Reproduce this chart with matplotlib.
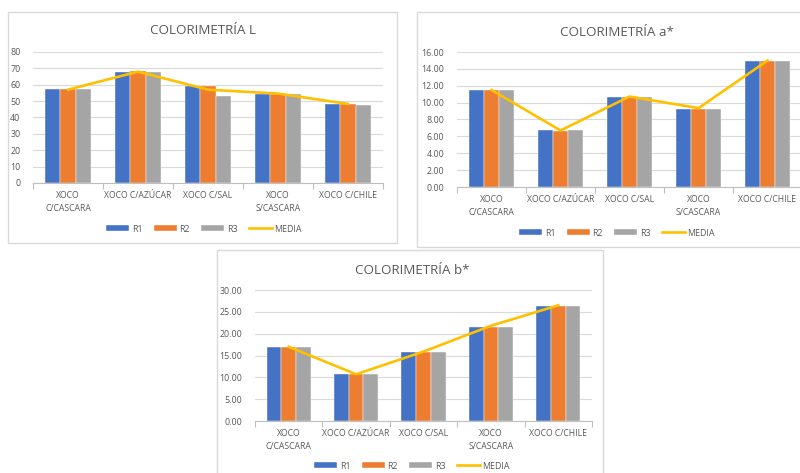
import matplotlib.pyplot as plt
import numpy as np
from matplotlib.patches import Rectangle

plt.rcParams['font.family'] = ['Open Sans', 'DejaVu Sans']

muestras = ['XOCO\nC/CASCARA', 'XOCO C/AZÚCAR', 'XOCO C/SAL', 'XOCO\nS/CASCARA', 'XOCO C/CHILE']

# colorimetria L
L_r1 = [57.3, 67.6, 59.5, 54.2, 48.0]
L_r2 = [57.3, 68.3, 59.0, 54.6, 48.0]
L_r3 = [57.3, 67.6, 53.4, 54.2, 47.9]
L_media = [57.0, 68.0, 57.0, 54.6, 48.3]

# colorimetria a*
a_r1 = [11.45, 6.75, 10.65, 9.29, 14.98]
a_r2 = [11.45, 6.63, 10.65, 9.29, 14.98]
a_r3 = [11.55, 6.75, 10.65, 9.29, 14.98]
a_media = [11.5, 6.70, 10.72, 9.35, 14.98]

# colorimetria b*
b_r1 = [17.0, 10.7, 15.9, 21.6, 26.4]
b_r2 = [17.0, 10.7, 15.9, 21.6, 26.4]
b_r3 = [17.0, 10.7, 15.9, 21.6, 26.4]
b_media = [17.0, 10.7, 15.9, 21.8, 26.5]

AZUL = '#4472C4'
NARANJA = '#ED7D31'
GRIS = '#A5A5A5'
AMARILLO = '#FFC000'
TEXTO = '#595959'
LINEA = '#D9D9D9'

W, H = 800, 473
fig = plt.figure(figsize=(8, 4.73), dpi=100)


def caja(x0, y0, x1, y1):
    # marco del grafico en pixeles (origen arriba a la izquierda)
    r = Rectangle((x0 / W, 1 - y1 / H), (x1 - x0) / W, (y1 - y0) / H,
                  transform=fig.transFigure, facecolor='white',
                  edgecolor=LINEA, linewidth=1, zorder=-1)
    fig.add_artist(r)


def grafica(px, titulo, r1, r2, r3, media, ymax, paso, fmt, tit_xy, ley_xy):
    x0, x1, ytop, ybot = px
    ax = fig.add_axes([x0 / W, 1 - ybot / H, (x1 - x0) / W, (ybot - ytop) / H])
    ax.set_facecolor('none')
    x = np.arange(len(muestras))
    w = 0.219
    b1 = ax.bar(x - w, r1, w, color=AZUL, edgecolor='white', linewidth=0.3, zorder=2)
    b2 = ax.bar(x, r2, w, color=NARANJA, edgecolor='white', linewidth=0.3, zorder=2)
    b3 = ax.bar(x + w, r3, w, color=GRIS, edgecolor='white', linewidth=0.3, zorder=2)
    lm, = ax.plot(x, media, color=AMARILLO, linewidth=1.9, zorder=3)

    ax.set_xlim(-0.5, len(muestras) - 0.5)
    ax.set_ylim(0, ymax)
    ax.set_yticks(np.arange(0, ymax + paso / 2, paso))
    ax.set_yticklabels([fmt.format(v) for v in np.arange(0, ymax + paso / 2, paso)])
    ax.yaxis.grid(True, color=LINEA, linewidth=0.8, zorder=0)
    ax.tick_params(axis='y', length=0, pad=9, labelsize=6.4, labelcolor=TEXTO)

    ax.set_xticks(x)
    ax.set_xticklabels(muestras, linespacing=1.55)
    ax.set_xticks(np.arange(-0.5, len(muestras)), minor=True)
    ax.tick_params(axis='x', which='major', length=0, pad=6, labelsize=6.2, labelcolor=TEXTO)
    ax.tick_params(axis='x', which='minor', length=4, color='#BFBFBF', width=0.8)

    for s in ['top', 'right', 'left']:
        ax.spines[s].set_visible(False)
    ax.spines['bottom'].set_color('#BFBFBF')
    ax.spines['bottom'].set_linewidth(0.8)

    fig.text(tit_xy[0] / W, 1 - tit_xy[1] / H, titulo, ha='center', va='center',
             fontsize=9.6, color=TEXTO)
    ax.legend([b1, b2, b3, lm], ['R1', 'R2', 'R3', 'MEDIA'],
              loc='center', bbox_to_anchor=(ley_xy[0] / W, 1 - ley_xy[1] / H),
              bbox_transform=fig.transFigure, ncol=4, frameon=False,
              fontsize=6.4, labelcolor=TEXTO, handlelength=2.6, handleheight=0.65,
              handletextpad=0.3, columnspacing=1.25)
    return ax


caja(8, 12, 397, 243)
caja(417, 12, 812, 247)
caja(217, 250, 603, 485)

grafica((33, 383, 52, 183), 'COLORIMETRÍA L', L_r1, L_r2, L_r3, L_media,
        80, 10, '{:.0f}', (203, 31), (204, 229))
grafica((457, 802, 52, 187), 'COLORIMETRÍA a*', a_r1, a_r2, a_r3, a_media,
        16, 2, '{:.2f}', (617, 32), (617, 233))
grafica((255, 592, 290, 421), 'COLORIMETRÍA b*', b_r1, b_r2, b_r3, b_media,
        30, 5, '{:.2f}', (412, 270), (412, 466))

fig.savefig('out.png', dpi=100, facecolor='white')
